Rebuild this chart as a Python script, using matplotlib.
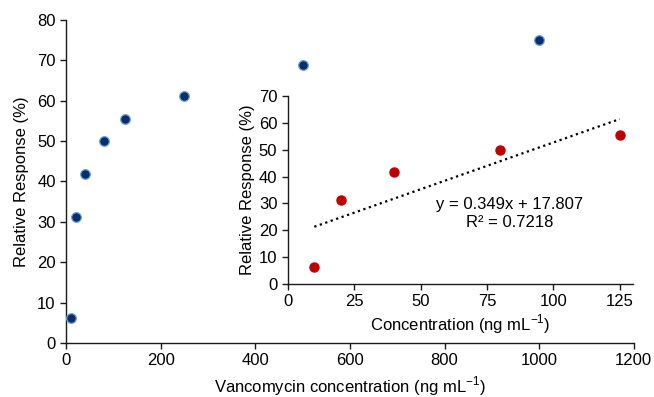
import numpy as np
import matplotlib
matplotlib.use("Agg")
import matplotlib.pyplot as plt

plt.rcParams['font.family'] = ['Liberation Sans', 'DejaVu Sans']
plt.rcParams['mathtext.fontset'] = 'custom'
plt.rcParams['mathtext.rm'] = 'Liberation Sans'
plt.rcParams['font.size'] = 12

# Data
conc_all = [10, 20, 40, 80, 125, 250, 500, 1000]
resp_all = [6.2, 31.2, 41.8, 50.0, 55.5, 61.1, 68.8, 75.0]
conc_lin = [10, 20, 40, 80, 125]
resp_lin = [6.2, 31.2, 41.8, 50.0, 55.5]
slope, intercept = 0.349, 17.807
r2_text = "R² = 0.7218"
main_xticks = [0, 200, 400, 600, 800, 1000, 1200]
main_yticks = [0, 10, 20, 30, 40, 50, 60, 70, 80]
inset_xticks = [0, 25, 50, 75, 100, 125]
inset_yticks = [0, 10, 20, 30, 40, 50, 60, 70]

FS = 12
fig = plt.figure(figsize=(6.54, 3.97), dpi=100)

ax = fig.add_axes([0.101, 0.136, 0.868, 0.814])
ax.plot(conc_all, resp_all, 'o', color='#0a2d6e', markersize=7,
        markeredgecolor='#6fa8dc', markeredgewidth=0.9, zorder=3)
ax.set_xlim(0, 1200)
ax.set_ylim(0, 80)
ax.set_xticks(main_xticks)
ax.set_yticks(main_yticks)
for s in ['top', 'right']:
    ax.spines[s].set_visible(False)
for s in ['left', 'bottom']:
    ax.spines[s].set_color('#1a1a1a')
    ax.spines[s].set_linewidth(1.0)
ax.tick_params(direction='out', length=4, width=1.0, color='#1a1a1a', labelsize=FS)
ax.set_xlabel('Vancomycin concentration (ng mL$^{\\mathregular{-1}}$)', fontsize=FS, labelpad=4)
ax.set_ylabel('Relative Response (%)', fontsize=FS, labelpad=6)

ins = fig.add_axes([0.440, 0.285, 0.528, 0.473])
ins.patch.set_alpha(0)
ins.plot(conc_lin, resp_lin, 'o', color='#c00000', markersize=6.5, zorder=3)
xf = np.array([min(conc_lin), max(conc_lin)])
ins.plot(xf, slope * xf + intercept, linestyle=(0, (1, 1.6)), color='black', linewidth=1.6)
ins.set_xlim(0, 130)
ins.set_ylim(0, 70)
ins.set_xticks(inset_xticks)
ins.set_yticks(inset_yticks)
for s in ['top', 'right']:
    ins.spines[s].set_visible(False)
for s in ['left', 'bottom']:
    ins.spines[s].set_color('#1a1a1a')
    ins.spines[s].set_linewidth(1.0)
ins.tick_params(direction='out', length=4, width=1.0, color='#1a1a1a', labelsize=FS)
ins.set_xlabel('Concentration (ng mL$^{\\mathregular{-1}}$)', fontsize=FS, labelpad=2)
ins.set_ylabel('Relative Response (%)', fontsize=FS, labelpad=3)
ins.text(83.6, 26.2, f"y = {slope}x + {intercept}\n{r2_text}", ha='center', va='center',
         fontsize=FS, linespacing=1.25)

fig.savefig('out.png', dpi=100)
